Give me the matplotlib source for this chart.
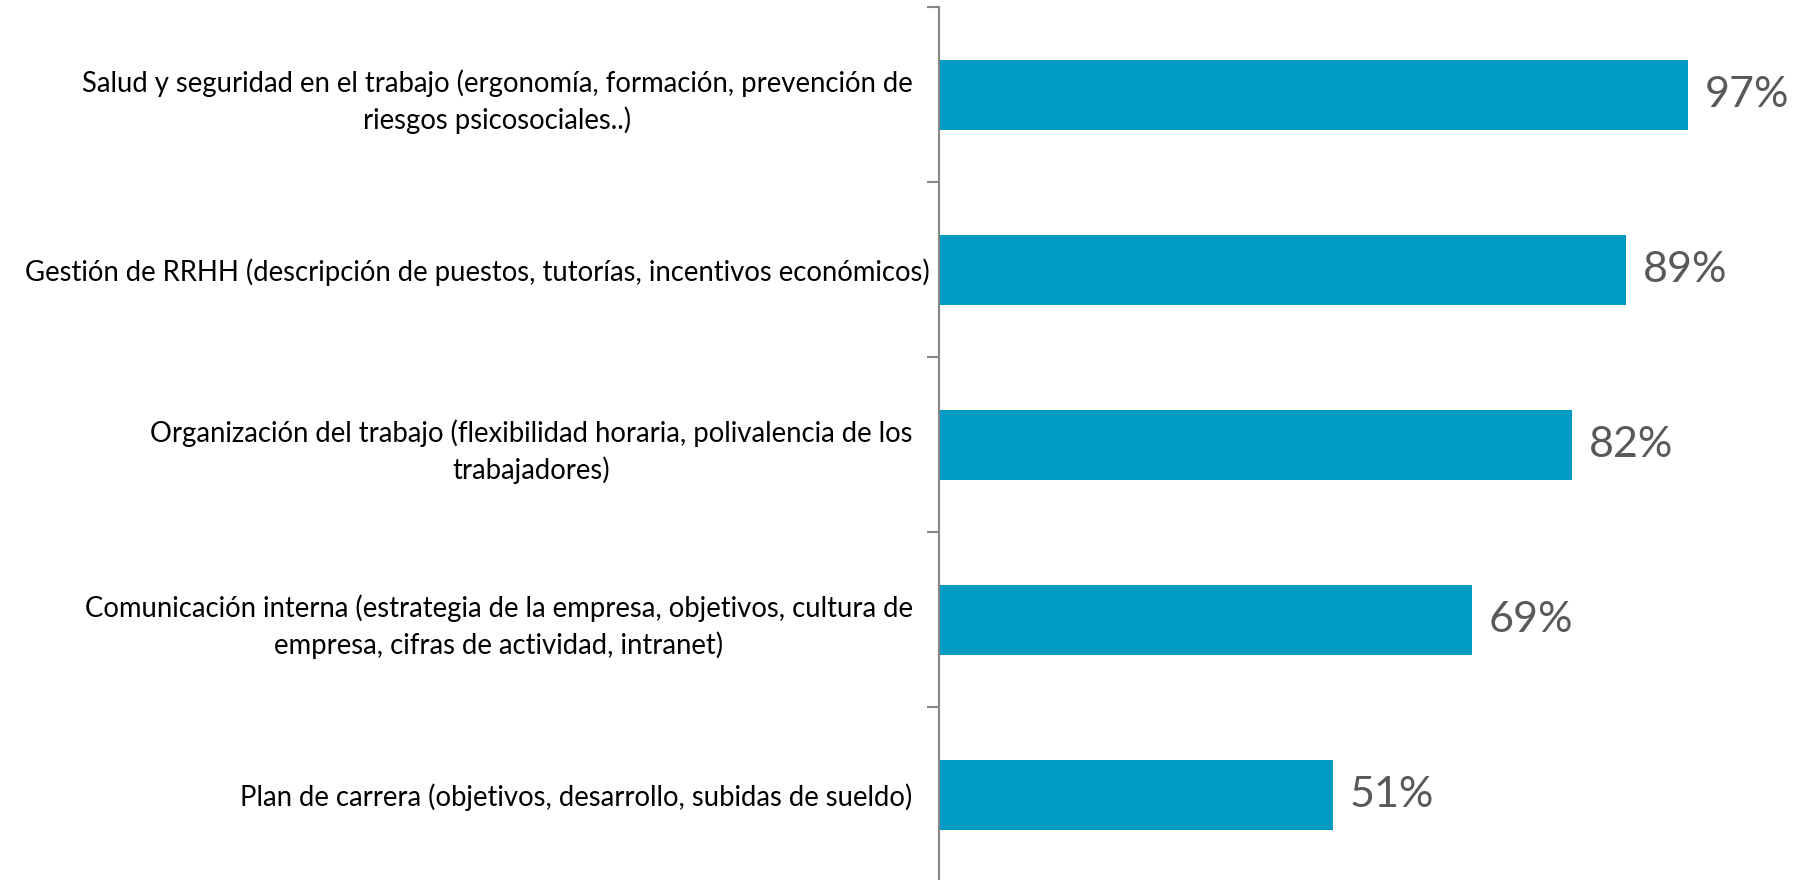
import numpy as np
import matplotlib.pyplot as plt
import matplotlib.transforms as mtransforms

categorias = [
    "Salud y seguridad en el trabajo (ergonomía, formación, prevención de\nriesgos psicosociales..)",
    "Gestión de RRHH (descripción de puestos, tutorías, incentivos económicos)",
    "Organización del trabajo (flexibilidad horaria, polivalencia de los\ntrabajadores)",
    "Comunicación interna (estrategia de la empresa, objetivos, cultura de\nempresa, cifras de actividad, intranet)",
    "Plan de carrera (objetivos, desarrollo, subidas de sueldo)",
]
valores = [0.97, 0.89, 0.82, 0.69, 0.51]
etiquetas = ["97%", "89%", "82%", "69%", "51%"]

plt.rcParams['font.family'] = ['Lato', 'DejaVu Sans']

fig = plt.figure(figsize=(17.96, 8.80), dpi=100)
ax = fig.add_axes([939 / 1796, -2 / 880, 1 - 939 / 1796, 875 / 880])

y = np.arange(len(categorias))
ax.barh(y, valores, height=0.4, color='#009BC3')
for yi, v, t in zip(y, valores, etiquetas):
    ax.text(v + 0.022, yi, t, va='center', ha='left', fontsize=31, color='#595959')

ax.set_xlim(0, 1.11)
ax.set_ylim(len(categorias) - 0.5, -0.5)

ax.set_yticks(np.arange(-0.5, len(categorias) + 0.5, 1))
ax.set_yticklabels([])
ax.set_yticks(y, minor=True)
labels = ax.set_yticklabels(categorias, minor=True, fontsize=19.8, color='black', ha='right',
                            multialignment='center', linespacing=1.4)
ax.tick_params(axis='y', which='minor', length=0, pad=19)
ax.tick_params(axis='y', which='major', length=9, width=1.5, color='#868686')
ax.set_xticks([])

# la etiqueta larga de una sola linea queda algo mas a la derecha
off = mtransforms.ScaledTranslation(12 / 72, 0, fig.dpi_scale_trans)
labels[1].set_transform(labels[1].get_transform() + off)

for s in ['top', 'right', 'bottom']:
    ax.spines[s].set_visible(False)
ax.spines['left'].set_color('#868686')
ax.spines['left'].set_linewidth(1.5)

fig.savefig('out.png', dpi=100)
